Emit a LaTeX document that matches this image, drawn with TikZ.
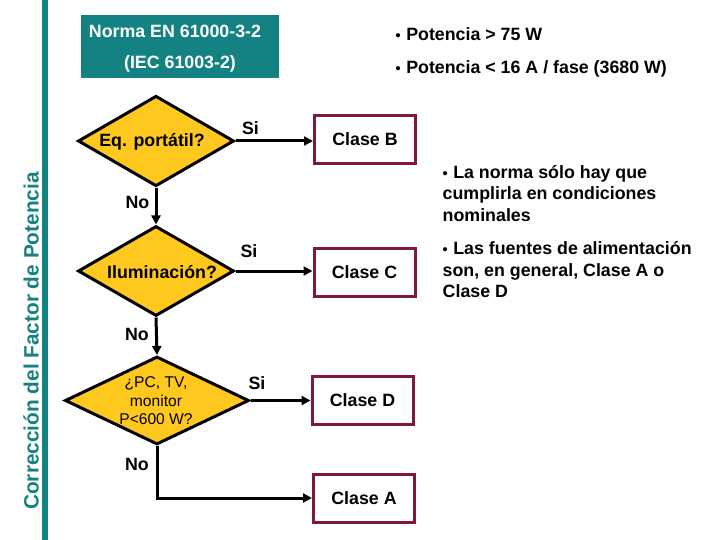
\documentclass[tikz,border=0pt]{standalone}
\usepackage{fontspec}
\setmainfont{Liberation Sans}
\usetikzlibrary{shapes.geometric,arrows.meta}
\definecolor{teal1}{HTML}{148282}
\definecolor{gold1}{HTML}{FFC81E}
\definecolor{maroon1}{HTML}{7E1A38}
\newcommand{\bul}{{\fontsize{14.5}{14}\selectfont •}\hspace{5.5pt}}
\begin{document}
\begin{tikzpicture}[x=1pt,y=-1pt,
  txt/.style={font=\fontsize{17.8}{21}\selectfont\bfseries, inner sep=0, anchor=base},
  ltxt/.style={txt, anchor=base west},
  dec/.style={diamond, draw=black, line width=3pt, fill=gold1, inner sep=0},
  box/.style={draw=maroon1, line width=3pt, fill=white, minimum width=101, minimum height=48, inner sep=0, font=\fontsize{17.8}{21}\selectfont\bfseries},
  arr/.style={line width=3pt, -{Triangle[length=9pt,width=9pt]}}
]
\useasboundingbox (0,0) rectangle (720,540);
\fill[white] (0,0) rectangle (720,540);
% side bar and title
\fill[teal1] (42,0) rectangle (48,540);
\node[rotate=90, anchor=base, font=\fontsize{20.8}{24}\selectfont\bfseries, text=teal1, inner sep=0] (side) at (38.5,341) {Corrección del Factor de Potencia};
\node[fill=teal1, minimum width=198, minimum height=63, inner sep=0, anchor=north west] (title) at (81,15) {};
\node[txt, text=white] (n1) at (175,37.5) {Norma EN 61000-3-2};
\node[txt, text=white] (n2) at (180,69) {(IEC 61003-2)};
% decisions
\node[dec, minimum width=156, minimum height=90.5] (d1) at (156,141) {};
\node[dec, minimum width=156, minimum height=90] (d2) at (156,271) {};
\node[dec, minimum width=184, minimum height=88] (d3) at (157,400.5) {};
\node[txt] (t1) at (152,147) {Eq. portátil?};
\node[txt] (t2) at (162,278) {Iluminación?};
\node[align=center, font=\fontsize{15.6}{18.5}\selectfont, inner sep=0] (t3) at (156,401) {¿PC, TV,\\monitor\\P<600 W?};
% classes
\node[box] (B) at (365,139.5) {Clase B};
\node[box] (C) at (364.5,272.5) {Clase C};
\node[box] (D) at (362.5,400.5) {Clase D};
\node[box] (A) at (364,498) {Clase A};
% connectors
\draw[arr] (d1.east) -- (d1.east -| B.west);
\draw[arr] (d2.east) -- (d2.east -| C.west);
\draw[arr] (d3.east) -- (d3.east -| D.west);
\draw[arr] (d1.south) -- (d2.north);
\draw[arr] (d2.south) -- (d3.north);
\draw[arr] (d3.south) |- (A.west);
% labels
\node[txt] (s1) at (250.5,135) {Si};
\node[txt] (s2) at (249,258) {Si};
\node[txt] (s3) at (257,389) {Si};
\node[txt] (o1) at (137.5,208) {No};
\node[txt] (o2) at (137,340) {No};
\node[txt] (o3) at (137,470) {No};
% notes
\node[ltxt] (p1) at (395.5,41) {\bul Potencia > 75 W};
\node[ltxt] (p2) at (395.5,74) {\bul Potencia < 16 A / fase (3680 W)};
\node[ltxt] (r1) at (442.5,178.5) {\bul La norma sólo hay que};
\node[ltxt] (r2) at (442.5,200) {cumplirla en condiciones};
\node[ltxt] (r3) at (442.5,221.5) {nominales};
\node[ltxt] (r4) at (442.5,254.5) {\bul Las fuentes de alimentación};
\node[ltxt] (r5) at (442.5,276) {son, en general, Clase A o};
\node[ltxt] (r6) at (442.5,297.5) {Clase D};
\end{tikzpicture}
\end{document}
